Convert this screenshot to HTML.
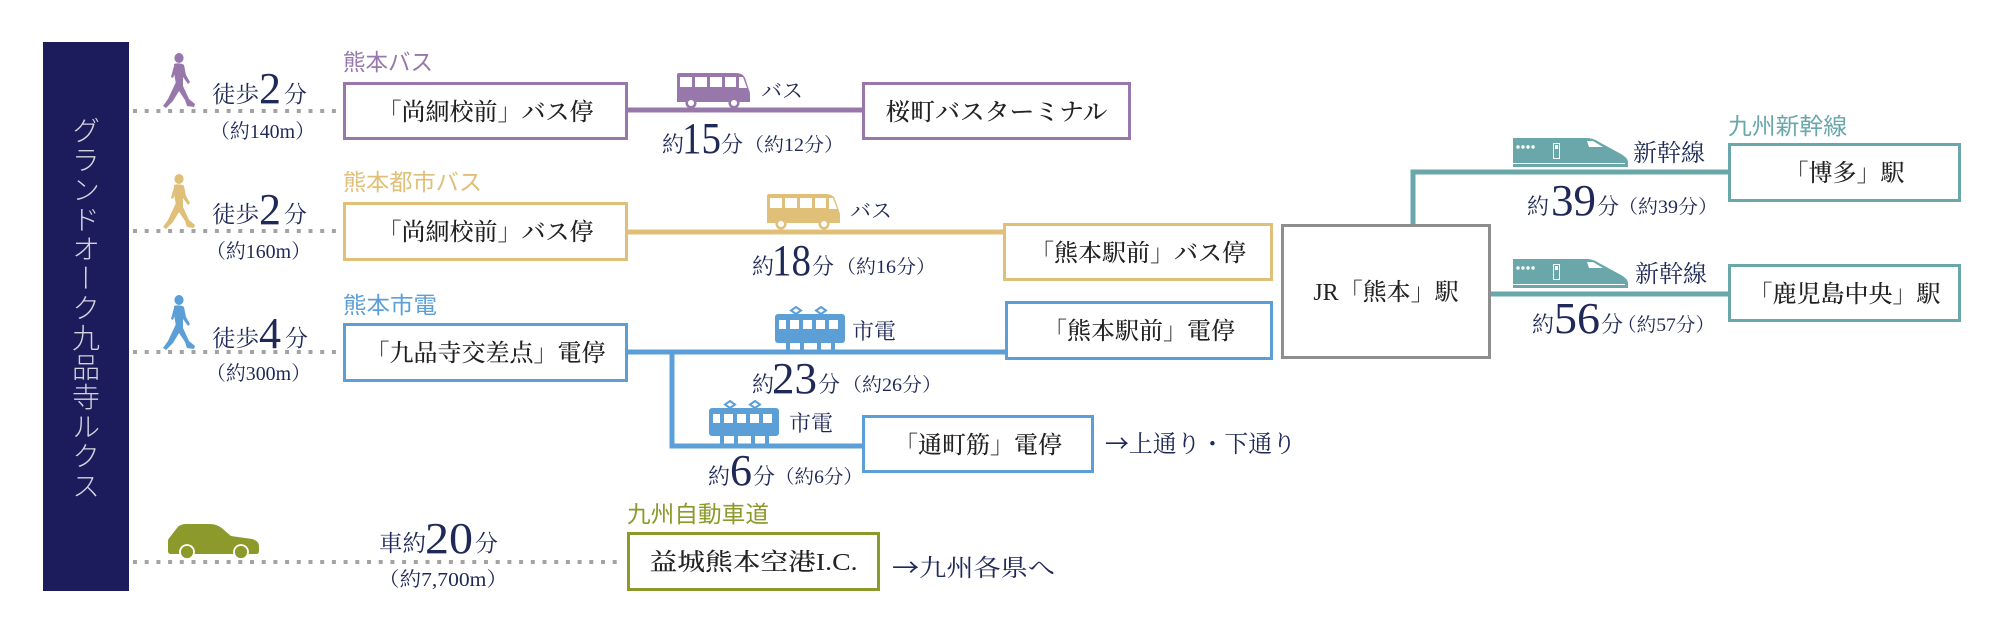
<!DOCTYPE html>
<html><head><meta charset="utf-8">
<style>
html,body{margin:0;padding:0;background:#fff;}
#wrap{position:relative;width:2000px;height:634px;overflow:hidden;background:#fff;}
svg{position:absolute;left:0;top:0;}
.vt{position:absolute;left:43px;top:116px;width:86px;height:400px;writing-mode:vertical-rl;line-height:86px;font-family:"Noto Sans CJK JP","Liberation Sans",sans-serif;font-size:28px;font-weight:300;letter-spacing:1.6px;color:#d3d4de;}
.s{font-family:"Liberation Serif","Noto Serif CJK SC",serif;}
.g{font-family:"Liberation Sans","Noto Sans CJK JP",sans-serif;}
.ar{font-family:"Noto Sans CJK JP",sans-serif;}
</style></head><body><div id="wrap">
<svg width="2000" height="634" viewBox="0 0 2000 634" xmlns="http://www.w3.org/2000/svg">
<defs>
<g id="walker">
<ellipse cx="16" cy="5" rx="4.6" ry="5"/>
<path d="M11,11 C13,10 19,10 21,12 L23,22 L27,29 L25,31 L20,24 L20,31 L13,31 L11,20 Z"/>
<path d="M11,13 L8,24 L10,25 L13,17 Z"/>
<path d="M13,29 L20,29 L20,33 L26,46 L32,51 L31,54 L24,53 L22,47 L16,38 L10,48 L3,55 L0,53 L5,46 Z"/>
</g>
</defs>

<!-- dark side bar -->
<rect x="43" y="42" width="86" height="549" fill="#1c1c5c"/>

<!-- dotted walking lines -->
<g stroke="#a3a3a3" stroke-width="4" stroke-dasharray="4 7.7">
<line x1="133" y1="111" x2="338" y2="111"/>
<line x1="133" y1="231" x2="338" y2="231"/>
<line x1="133" y1="352" x2="338" y2="352"/>
<line x1="133" y1="562" x2="624" y2="562"/>
</g>

<!-- walkers -->
<g fill="#9878ab" transform="translate(163,53)"><use href="#walker"/></g>
<g fill="#e0bf78" transform="translate(163,174)"><use href="#walker"/></g>
<g fill="#5c9fd6" transform="translate(163,295)"><use href="#walker"/></g>

<!-- car -->
<g transform="translate(168,523)">
<path fill="#8c9a2b" d="M2,14 L9,5 Q12,1 18,1 L42,1 Q50,1 56,7 L63,13 L84,16 Q91,18 91,23 L91,28 Q91,31 88,31 L3,31 Q0,31 0,28 L0,18 Q0,16 2,14 Z"/>
<circle cx="19" cy="29" r="7" fill="#8c9a2b" stroke="#fff" stroke-width="1.8"/>
<circle cx="73" cy="29" r="7" fill="#8c9a2b" stroke="#fff" stroke-width="1.8"/>
</g>

<!-- connector lines -->
<g fill="none" stroke-width="5">
<line x1="628" y1="110" x2="862" y2="110" stroke="#9878ab"/>
<line x1="628" y1="232" x2="1003" y2="232" stroke="#e0bf78"/>
<line x1="628" y1="352" x2="1005" y2="352" stroke="#5c9fd6"/>
<polyline points="672,350 672,446 862,446" stroke="#5c9fd6"/>
<polyline points="1413,224 1413,172 1728,172" stroke="#6aa7ab"/>
<line x1="1491" y1="294" x2="1728" y2="294" stroke="#6aa7ab"/>
</g>

<!-- boxes -->
<g fill="#fff" stroke-width="3">
<rect x="344.5" y="83.5" width="282" height="55" stroke="#9878ab"/>
<rect x="863.5" y="83.5" width="266" height="55" stroke="#9878ab"/>
<rect x="344.5" y="203.5" width="282" height="56" stroke="#e0bf78"/>
<rect x="1004.5" y="224.5" width="267" height="55" stroke="#e0bf78"/>
<rect x="344.5" y="324.5" width="282" height="56" stroke="#5c9fd6"/>
<rect x="1006.5" y="302.5" width="265" height="56" stroke="#5c9fd6"/>
<rect x="863.5" y="416.5" width="229" height="55" stroke="#5c9fd6"/>
<rect x="1282.5" y="225.5" width="207" height="132" stroke="#8e8e8e"/>
<rect x="1729.5" y="144.5" width="230" height="56" stroke="#6aa7ab"/>
<rect x="1729.5" y="265.5" width="230" height="55" stroke="#6aa7ab"/>
<rect x="628.5" y="533.5" width="250" height="56" stroke="#8c9a2b"/>
</g>

<!-- buses -->
<g transform="translate(677,73)">
<path fill="#9878ab" d="M2,0 H59 Q66,0 68,5 L72,17 Q73,19 73,21 V29 H0 V2 Q0,0 2,0 Z"/>
<g fill="#fff"><rect x="3" y="4" width="12" height="10"/><rect x="18" y="4" width="12" height="10"/><rect x="33" y="4" width="12" height="10"/><rect x="48" y="4" width="11" height="10"/><path d="M62,4 L66,4 L70,15 L62,15 Z"/></g>
<circle cx="14" cy="30" r="4.3" fill="#fff" stroke="#9878ab" stroke-width="2.5"/>
<circle cx="57" cy="30" r="4.3" fill="#fff" stroke="#9878ab" stroke-width="2.5"/>
</g>
<g transform="translate(767,194)">
<path fill="#e0bf78" d="M2,0 H59 Q66,0 68,5 L72,17 Q73,19 73,21 V29 H0 V2 Q0,0 2,0 Z"/>
<g fill="#fff"><rect x="3" y="4" width="12" height="10"/><rect x="18" y="4" width="12" height="10"/><rect x="33" y="4" width="12" height="10"/><rect x="48" y="4" width="11" height="10"/><path d="M62,4 L66,4 L70,15 L62,15 Z"/></g>
<circle cx="14" cy="30" r="4.3" fill="#fff" stroke="#e0bf78" stroke-width="2.5"/>
<circle cx="57" cy="30" r="4.3" fill="#fff" stroke="#e0bf78" stroke-width="2.5"/>
</g>

<!-- trams -->
<g transform="translate(775,307)">
<g fill="none" stroke="#5c9fd6" stroke-width="2"><path d="M21,0 L26,3.5 L21,7 L16,3.5 Z"/><path d="M46,0 L51,3.5 L46,7 L41,3.5 Z"/></g>
<rect x="0" y="7" width="70" height="29" rx="3" fill="#5c9fd6"/>
<g fill="#fff"><rect x="4" y="13" width="7" height="9"/><rect x="15" y="13" width="9" height="9"/><rect x="28" y="13" width="9" height="9"/><rect x="41" y="13" width="9" height="9"/><rect x="54" y="13" width="9" height="9"/></g>
<g fill="#5c9fd6"><rect x="11" y="35" width="4" height="10"/><rect x="25" y="35" width="4" height="10"/><rect x="42" y="35" width="4" height="10"/><rect x="56" y="35" width="4" height="10"/></g>
</g>
<g transform="translate(709,401)">
<g fill="none" stroke="#5c9fd6" stroke-width="2"><path d="M21,0 L26,3.5 L21,7 L16,3.5 Z"/><path d="M46,0 L51,3.5 L46,7 L41,3.5 Z"/></g>
<rect x="0" y="7" width="70" height="28" rx="3" fill="#5c9fd6"/>
<g fill="#fff"><rect x="4" y="13" width="7" height="9"/><rect x="15" y="13" width="9" height="9"/><rect x="28" y="13" width="9" height="9"/><rect x="41" y="13" width="9" height="9"/><rect x="54" y="13" width="9" height="9"/></g>
<g fill="#5c9fd6"><rect x="11" y="34" width="4" height="10"/><rect x="25" y="34" width="4" height="10"/><rect x="42" y="34" width="4" height="10"/><rect x="56" y="34" width="4" height="10"/></g>
</g>

<!-- shinkansen -->
<g transform="translate(1513,138)">
<path fill="#6aa7ab" d="M0,0 H74 Q80,0 86,4 L108,16 Q115,20 115,24 V29 H0 Z"/>
<path fill="#fff" d="M74,3 L80,3 L90,9 L76,9 Z"/>
<g fill="#fff"><circle cx="5" cy="9" r="1.7"/><circle cx="10" cy="9" r="1.7"/><circle cx="15" cy="9" r="1.7"/><circle cx="20" cy="9" r="1.7"/></g>
<rect x="40.5" y="5.5" width="6" height="15" fill="none" stroke="#fff" stroke-width="1"/>
<rect x="42" y="7" width="3" height="4" fill="#fff"/>
<line x1="0" y1="25.5" x2="112" y2="25.5" stroke="#fff" stroke-width="1"/>
</g>
<g transform="translate(1513,259)">
<path fill="#6aa7ab" d="M0,0 H74 Q80,0 86,4 L108,16 Q115,20 115,24 V29 H0 Z"/>
<path fill="#fff" d="M74,3 L80,3 L90,9 L76,9 Z"/>
<g fill="#fff"><circle cx="5" cy="9" r="1.7"/><circle cx="10" cy="9" r="1.7"/><circle cx="15" cy="9" r="1.7"/><circle cx="20" cy="9" r="1.7"/></g>
<rect x="40.5" y="5.5" width="6" height="15" fill="none" stroke="#fff" stroke-width="1"/>
<rect x="42" y="7" width="3" height="4" fill="#fff"/>
<line x1="0" y1="25.5" x2="112" y2="25.5" stroke="#fff" stroke-width="1"/>
</g>

<!-- category labels -->
<g class="g" font-size="23">
<text x="343" y="70" fill="#9878ab" textLength="90" lengthAdjust="spacingAndGlyphs">熊本バス</text>
<text x="343" y="190" fill="#e0bf78" textLength="139" lengthAdjust="spacingAndGlyphs">熊本都市バス</text>
<text x="343" y="313" fill="#5c9fd6" textLength="94" lengthAdjust="spacingAndGlyphs">熊本市電</text>
<text x="1728" y="134" fill="#6aa7ab" textLength="119" lengthAdjust="spacingAndGlyphs">九州新幹線</text>
<text x="627" y="522" fill="#8c9a2b" textLength="142" lengthAdjust="spacingAndGlyphs">九州自動車道</text>
</g>

<!-- box texts -->
<g class="s" font-size="24" font-weight="500" fill="#222" text-anchor="middle">
<text x="485.5" y="120">「尚絅校前」バス停</text>
<text x="996.5" y="120" textLength="222" lengthAdjust="spacingAndGlyphs">桜町バスターミナル</text>
<text x="485.5" y="240">「尚絅校前」バス停</text>
<text x="1138" y="261">「熊本駅前」バス停</text>
<text x="485.5" y="361">「九品寺交差点」電停</text>
<text x="1139" y="339">「熊本駅前」電停</text>
<text x="978" y="453">「通町筋」電停</text>
<text x="1386" y="300">JR「熊本」駅</text>
<text x="1844.5" y="181">「博多」駅</text>
<text x="1844.5" y="302">「鹿児島中央」駅</text>
<text x="753.5" y="570" textLength="208" lengthAdjust="spacingAndGlyphs">益城熊本空港I.C.</text>
</g>

<!-- navy labels -->
<g class="s" fill="#1f2957">
<!-- walking -->
<text x="212" y="102" font-size="23" textLength="47" lengthAdjust="spacingAndGlyphs">徒歩</text>
<text x="259" y="103" font-size="44">2</text>
<text x="284" y="102" font-size="23">分</text>
<text x="210" y="138" font-size="20" textLength="105" lengthAdjust="spacingAndGlyphs">（約140m）</text>

<text x="212" y="222" font-size="23" textLength="47" lengthAdjust="spacingAndGlyphs">徒歩</text>
<text x="259" y="224" font-size="44">2</text>
<text x="284" y="222" font-size="23">分</text>
<text x="206" y="258" font-size="20" textLength="105" lengthAdjust="spacingAndGlyphs">（約160m）</text>

<text x="212" y="346" font-size="23" textLength="47" lengthAdjust="spacingAndGlyphs">徒歩</text>
<text x="259" y="348" font-size="44">4</text>
<text x="285" y="346" font-size="23">分</text>
<text x="206" y="380" font-size="20" textLength="105" lengthAdjust="spacingAndGlyphs">（約300m）</text>

<text x="379" y="551" font-size="23" textLength="47" lengthAdjust="spacingAndGlyphs">車約</text>
<text x="425" y="553" font-size="44" textLength="48" lengthAdjust="spacingAndGlyphs">20</text>
<text x="475" y="551" font-size="23">分</text>
<text x="378" y="586" font-size="20" textLength="130" lengthAdjust="spacingAndGlyphs">（約7,700m）</text>

<!-- icon labels -->
<text x="761" y="98" font-size="21">バス</text>
<text x="850" y="218" font-size="21">バス</text>
<text x="852" y="339" font-size="22">市電</text>
<text x="789" y="431" font-size="22">市電</text>
<text x="1633" y="161" font-size="24">新幹線</text>
<text x="1635" y="282" font-size="24">新幹線</text>

<!-- times -->
<text x="662" y="152" font-size="22">約</text>
<text x="682" y="153" font-size="44" textLength="39" lengthAdjust="spacingAndGlyphs">15</text>
<text x="721" y="152" font-size="22">分</text>
<text x="744" y="151" font-size="19" textLength="100" lengthAdjust="spacingAndGlyphs">（約12分）</text>

<text x="752" y="274" font-size="22">約</text>
<text x="772" y="275" font-size="44" textLength="39" lengthAdjust="spacingAndGlyphs">18</text>
<text x="812" y="274" font-size="22">分</text>
<text x="836" y="273" font-size="19" textLength="100" lengthAdjust="spacingAndGlyphs">（約16分）</text>

<text x="752" y="392" font-size="22">約</text>
<text x="772" y="393" font-size="44" textLength="45" lengthAdjust="spacingAndGlyphs">23</text>
<text x="818" y="392" font-size="22">分</text>
<text x="842" y="391" font-size="19" textLength="100" lengthAdjust="spacingAndGlyphs">（約26分）</text>

<text x="708" y="484" font-size="22">約</text>
<text x="730" y="485" font-size="44">6</text>
<text x="753" y="484" font-size="22">分</text>
<text x="775" y="483" font-size="19" textLength="88" lengthAdjust="spacingAndGlyphs">（約6分）</text>

<text x="1527" y="214" font-size="22">約</text>
<text x="1551" y="215" font-size="44" textLength="45" lengthAdjust="spacingAndGlyphs">39</text>
<text x="1597" y="214" font-size="22">分</text>
<text x="1618" y="213" font-size="19" textLength="100" lengthAdjust="spacingAndGlyphs">（約39分）</text>

<text x="1532" y="332" font-size="22">約</text>
<text x="1554" y="333" font-size="44" textLength="46" lengthAdjust="spacingAndGlyphs">56</text>
<text x="1601" y="332" font-size="22">分</text>
<text x="1617" y="331" font-size="19" textLength="98" lengthAdjust="spacingAndGlyphs">（約57分）</text>

<!-- arrows -->
<text x="1105" y="452" font-size="24" textLength="191" lengthAdjust="spacingAndGlyphs"><tspan class="ar">→</tspan>上通り・下通り</text>
<text x="892" y="576" font-size="24" textLength="163" lengthAdjust="spacingAndGlyphs"><tspan class="ar">→</tspan>九州各県へ</text>
</g>
</svg>
<div class="vt">グランドオーク九品寺ルクス</div>
</div></body></html>
